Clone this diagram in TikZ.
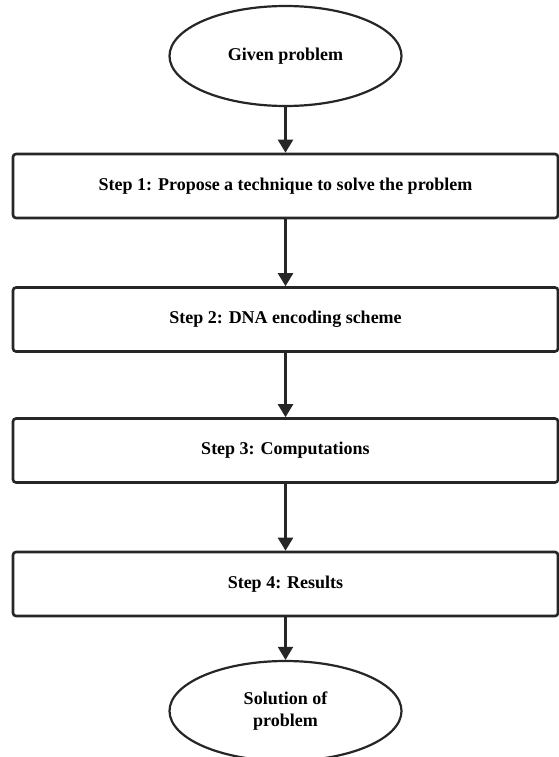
\documentclass[tikz,border=0pt]{standalone}
\usepackage{fontspec}
\setmainfont{Liberation Serif}
\usetikzlibrary{arrows.meta}
\tikzset{
  stepbox/.style={draw=black!85, line width=2.6pt, rounded corners=3pt, minimum width=545pt, minimum height=64pt, inner sep=0pt, font=\bfseries\fontsize{18}{22}\selectfont},
  term/.style={draw=black!85, line width=2.2pt, ellipse, minimum width=232pt, minimum height=100pt, inner sep=0pt, align=center, font=\bfseries\fontsize{18}{22}\selectfont},
  flow/.style={draw=black!85, line width=2.2pt, -{Triangle[width=15pt,length=13pt]}}
}
\usetikzlibrary{shapes.geometric}
\begin{document}
\begin{tikzpicture}[x=1pt,y=-1pt]
\useasboundingbox (0,0) rectangle (559,757);
\node[term] (start) at (285.5,56) {Given problem};
\node[stepbox] (s1) at (285.5,186) {Step 1: Propose a technique to solve the problem};
\node[stepbox] (s2) at (285.5,319.5) {Step 2: DNA encoding scheme};
\node[stepbox] (s3) at (285.5,450.5) {Step 3: Computations};
\node[stepbox] (s4) at (285.5,584) {Step 4: Results};
\node[term] (end) at (285.5,711) {Solution of\\problem};
\draw[flow] (start) -- (s1);
\draw[flow] (s1) -- (s2);
\draw[flow] (s2) -- (s3);
\draw[flow] (s3) -- (s4);
\draw[flow] (s4) -- (end);
\end{tikzpicture}
\end{document}
